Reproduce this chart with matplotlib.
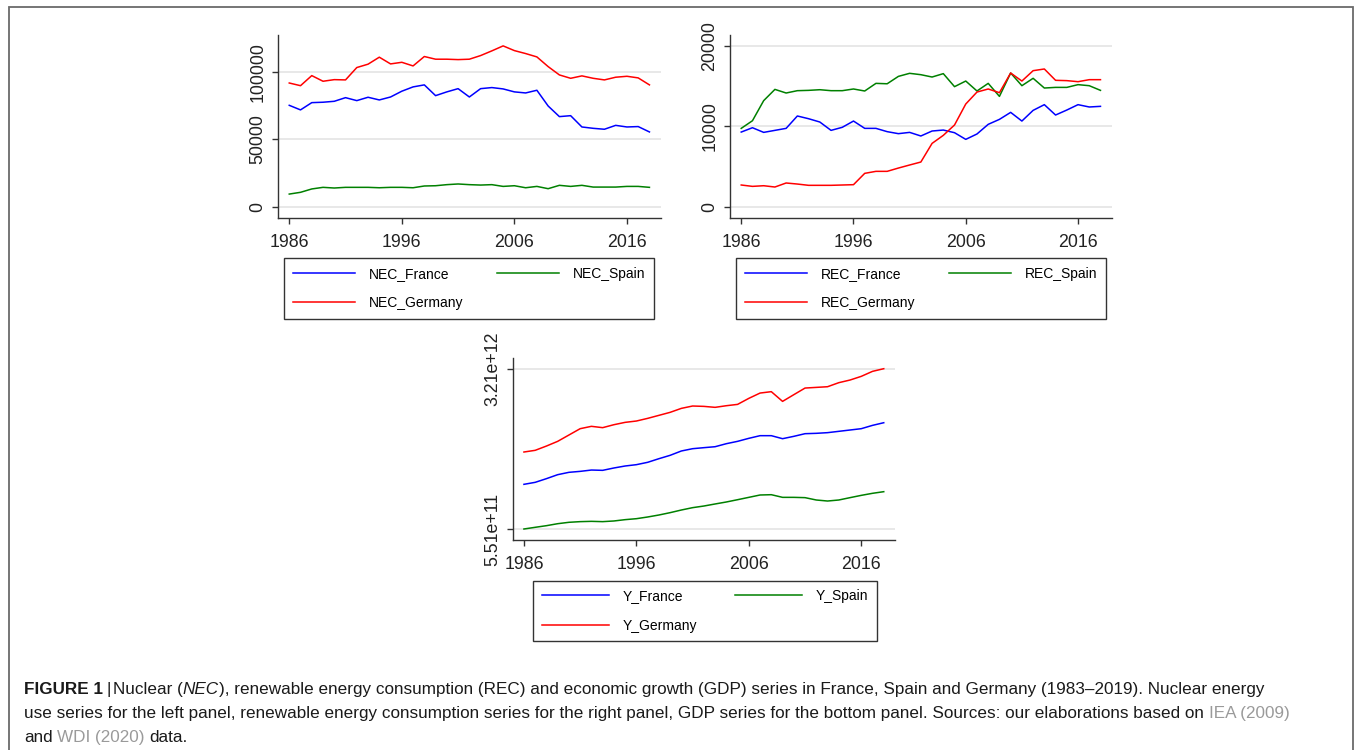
import matplotlib
matplotlib.use("Agg")
import matplotlib.pyplot as plt
from matplotlib.patches import Rectangle
from matplotlib.ticker import FixedLocator, FixedFormatter

years = list(range(1986, 2019))

# nuclear energy consumption
nec_france = [75400, 72000, 77400, 77700, 78400, 81100, 78900, 81400, 79400, 81600,
              85900, 89100, 90600, 82600, 85400, 87800, 81600, 87800, 88600, 87600,
              85400, 84600, 86600, 74900, 67000, 67700, 59300, 58300, 57600, 60500,
              59300, 59600, 55600]
nec_spain = [9400, 10700, 13200, 14400, 13900, 14400, 14400, 14400, 14100, 14400,
             14400, 14100, 15400, 15600, 16400, 16900, 16400, 16100, 16400, 15100,
             15600, 14100, 15100, 13400, 15900, 15100, 15900, 14600, 14600, 14600,
             15100, 15100, 14400]
nec_germany = [92000, 90000, 97500, 93300, 94500, 94300, 103500, 106000, 111200, 106200,
               107400, 104700, 111700, 109700, 109700, 109400, 109700, 112400, 115900, 119600,
               116100, 113900, 111400, 104200, 98000, 95500, 97300, 95500, 94300, 96300,
               97000, 95800, 90600]

# renewable energy consumption
rec_france = [9290, 9830, 9250, 9500, 9750, 11290, 10950, 10540, 9500, 9880,
              10660, 9750, 9750, 9340, 9090, 9250, 8800, 9420, 9540, 9210,
              8380, 9050, 10250, 10870, 11740, 10660, 11990, 12700, 11410, 12030,
              12700, 12410, 12490]
rec_spain = [9750, 10700, 13200, 14600, 14150, 14440, 14480, 14560, 14440, 14440,
             14650, 14400, 15350, 15300, 16220, 16600, 16430, 16140, 16560, 14940,
             15640, 14400, 15350, 13730, 16640, 15060, 15980, 14770, 14850, 14850,
             15190, 15060, 14480]
rec_germany = [2700, 2530, 2610, 2450, 2950, 2820, 2660, 2660, 2660, 2700,
               2740, 4150, 4400, 4400, 4810, 5190, 5560, 7880, 8880, 10170,
               12780, 14270, 14650, 14190, 16640, 15640, 16930, 17140, 15730, 15690,
               15560, 15810, 15810]

# GDP
y_france = [1.292e12, 1.325e12, 1.386e12, 1.452e12, 1.491e12, 1.507e12, 1.529e12, 1.524e12,
            1.563e12, 1.596e12, 1.618e12, 1.657e12, 1.717e12, 1.773e12, 1.845e12, 1.883e12,
            1.900e12, 1.916e12, 1.966e12, 2.005e12, 2.055e12, 2.099e12, 2.099e12, 2.049e12,
            2.088e12, 2.132e12, 2.138e12, 2.149e12, 2.171e12, 2.193e12, 2.215e12, 2.270e12,
            2.314e12]
y_spain = [5.51e11, 5.79e11, 6.06e11, 6.39e11, 6.62e11, 6.73e11, 6.78e11, 6.73e11,
           6.84e11, 7.06e11, 7.22e11, 7.50e11, 7.83e11, 8.22e11, 8.66e11, 9.05e11,
           9.32e11, 9.66e11, 9.99e11, 1.037e12, 1.076e12, 1.115e12, 1.120e12, 1.076e12,
           1.076e12, 1.071e12, 1.032e12, 1.015e12, 1.032e12, 1.071e12, 1.109e12, 1.143e12,
           1.170e12]
y_germany = [1.828e12, 1.856e12, 1.927e12, 2.005e12, 2.110e12, 2.215e12, 2.254e12, 2.232e12,
             2.281e12, 2.320e12, 2.342e12, 2.386e12, 2.436e12, 2.486e12, 2.552e12, 2.591e12,
             2.585e12, 2.569e12, 2.596e12, 2.618e12, 2.718e12, 2.806e12, 2.829e12, 2.668e12,
             2.779e12, 2.889e12, 2.900e12, 2.911e12, 2.978e12, 3.022e12, 3.083e12, 3.166e12,
             3.210e12]

x_ticks = [1986, 1996, 2006, 2016]

W, H = 1357, 750
fig = plt.figure(figsize=(W / 100, H / 100), dpi=100)
plt.rcParams['font.family'] = ['Liberation Sans', 'DejaVu Sans']


def px_axes(x0, y0, x1, y1):
    return fig.add_axes([x0 / W, 1 - y1 / H, (x1 - x0) / W, (y1 - y0) / H])


def panel(ax, series, labels, yticks, ylabels, ylim, legend_box, hl, cs):
    colors = ['blue', 'green', 'red']
    lines = []
    for vals, c, lab in zip(series, colors, labels):
        ln, = ax.plot(years, vals, color=c, lw=1.1, label=lab)
        lines.append(ln)
    ax.set_xlim(1985.0, 2019.0)
    ax.set_ylim(*ylim)
    ax.xaxis.set_major_locator(FixedLocator(x_ticks))
    ax.yaxis.set_major_locator(FixedLocator(yticks))
    ax.yaxis.set_major_formatter(FixedFormatter(ylabels))
    for t in yticks:
        ax.axhline(t, color='#e4e4e4', lw=1.2, zorder=0)
    for s in ['top', 'right']:
        ax.spines[s].set_visible(False)
    for s in ['left', 'bottom']:
        ax.spines[s].set_color('#333333')
        ax.spines[s].set_linewidth(1.0)
    ax.tick_params(direction='out', length=4.3, width=1.0, color='#333333',
                   labelsize=12.8, labelcolor='#222222')
    ax.tick_params(axis='x', pad=7)
    ax.tick_params(axis='y', pad=4)
    for lab in ax.get_yticklabels():
        lab.set_rotation(90)
        lab.set_va('center')
    # legend: France, Spain on first row, Germany below
    lx, ly = legend_box
    leg = ax.legend([lines[0], lines[2], lines[1]], [labels[0], labels[2], labels[1]],
                    ncol=2, loc='upper left', bbox_to_anchor=(lx / W, 1 - ly / H),
                    bbox_transform=fig.transFigure, borderaxespad=0, fontsize=10,
                    handlelength=hl, handletextpad=1.0, columnspacing=cs,
                    labelspacing=1.1, borderpad=0.62, fancybox=False, framealpha=1)
    leg.get_frame().set_edgecolor('#333333')
    leg.get_frame().set_linewidth(1.0)


ax1 = px_axes(278, 35, 660.7, 218)
panel(ax1, [nec_france, nec_spain, nec_germany], ['NEC_France', 'NEC_Spain', 'NEC_Germany'],
      [0, 50000, 100000], ['0', '50000', '100000'], (-8400, 127700), (284, 258.3), 4.5, 2.4)

ax2 = px_axes(730, 35, 1111.7, 218.3)
panel(ax2, [rec_france, rec_spain, rec_germany], ['REC_France', 'REC_Spain', 'REC_Germany'],
      [0, 10000, 20000], ['0', '10000', '20000'], (-1444, 21370), (736, 258.3), 4.5, 2.4)

ax3 = px_axes(512.7, 358.3, 895, 540)
panel(ax3, [y_france, y_spain, y_germany], ['Y_France', 'Y_Spain', 'Y_Germany'],
      [5.51e11, 3.21e12], ['5.51e+11', '3.21e+12'], (3.685e11, 3.3825e12), (533.3, 580.7), 4.8, 2.73)

# outer frame
fig.add_artist(Rectangle((9 / W, -0.05), (1353 - 9) / W, 1 - 7 / H + 0.05,
                         transform=fig.transFigure, fill=False, edgecolor='#6a6a6a', lw=1.3))

# caption
cap = fig.add_axes([0, 0, 1, 1])
cap.set_axis_off()
cap.set_xlim(0, W)
cap.set_ylim(H, 0)
fs = 12.3
gray = '#9a9a9a'


def caption_line(x, y, parts):
    prev = None
    for txt, kw, gap in parts:
        style = dict(fontsize=fs, color='#1a1a1a', va='bottom', ha='left')
        style.update(kw)
        if prev is None:
            prev = cap.text(x, y, txt, **style)
        else:
            prev = cap.annotate(txt, xy=(1, 0), xycoords=prev, xytext=(gap, 0),
                                textcoords='offset points', **style)


sp = 3.4
caption_line(24, 697, [
    ('FIGURE 1', dict(fontweight='bold'), 0),
    ('|', {}, 2.5),
    ('Nuclear (', {}, 1.5),
    ('NEC', dict(style='italic'), 0),
    ('), renewable energy consumption (REC) and economic growth (GDP) series in France, '
     'Spain and Germany (1983\u20132019). Nuclear energy', {}, 0),
])
caption_line(24, 721, [
    ('use series for the left panel, renewable energy consumption series for the right panel, '
     'GDP series for the bottom panel. Sources: our elaborations based on', {}, 0),
    ('IEA (2009)', dict(color=gray), sp),
])
caption_line(24, 745, [
    ('and', {}, 0),
    ('WDI (2020)', dict(color=gray), sp),
    ('data.', {}, sp),
])

fig.savefig('out.png', dpi=100)
